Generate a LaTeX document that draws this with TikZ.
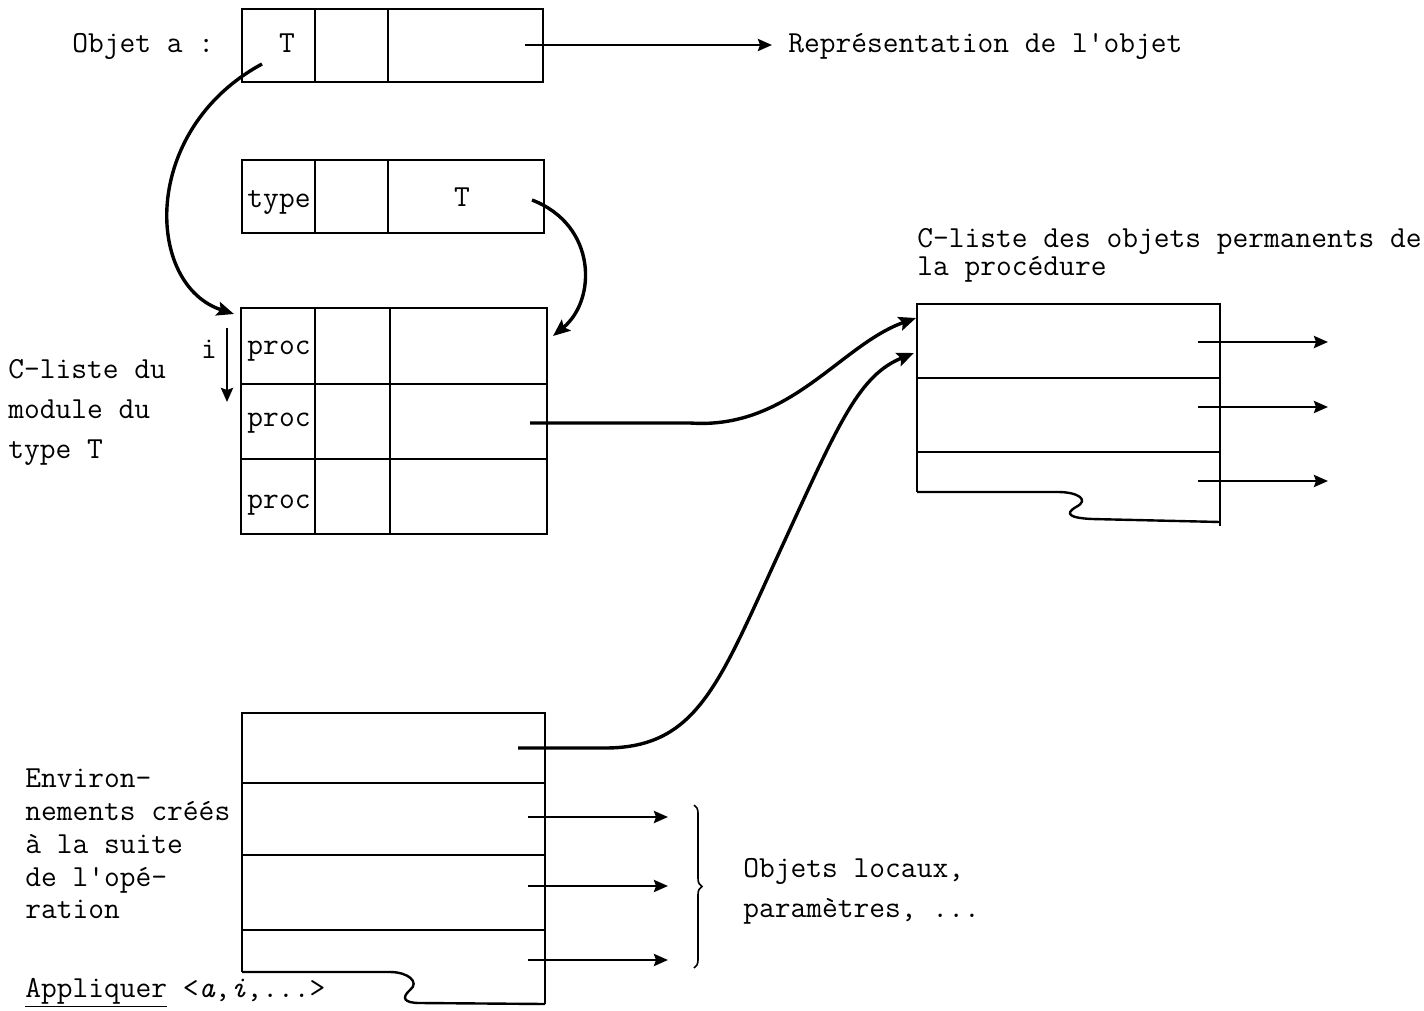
\documentclass[tikz,border=0pt]{standalone}
\usepackage{fontspec}
\usetikzlibrary{arrows.meta,fit,decorations.pathreplacing}
\begin{document}
\begin{tikzpicture}[x=0.5pt,y=-0.5pt,
  box/.style={draw, line width=1.2pt, inner sep=0pt},
  area/.style={inner sep=0pt},
  rule/.style={line width=1.2pt},
  txt/.style={font=\fontsize{15.3}{20}\selectfont\ttfamily, inner sep=0pt, anchor=base west},
  ctxt/.style={font=\fontsize{15.3}{20}\selectfont\ttfamily, inner sep=0pt, anchor=base},
  ptr/.style={line width=1.4pt, -{Stealth[length=7pt,width=6pt,inset=1pt]}},
  link/.style={line width=1.7pt, -{Stealth[length=8.5pt,width=7pt,inset=1.5pt]}},
]
\useasboundingbox (0,0) rectangle (1424,1011);

% ---- Objet a
\node[box, fit={(242,9) (543,82)}] (A) {};
\draw[rule] (315,9) -- (315,82) (388,9) -- (388,82);
\node[txt] (objA) at (72,53) {Objet a :};
\node[ctxt] (AT) at (287,53) {T};
\node[txt] (rep) at (788,53) {Représentation de l'objet};
\coordinate (Aout) at (525,45);
\draw[ptr, shorten >=8pt] (Aout) -- (rep.west |- Aout);

% ---- type box
\node[box, fit={(242,160) (544,233)}] (B) {};
\draw[rule] (315,160) -- (315,233) (388,160) -- (388,233);
\node[ctxt] (Btype) at (279,207) {type};
\node[ctxt] (BT) at (462,206) {T};

% ---- C-liste du module
\node[box, fit={(241,308) (547,534)}] (C) {};
\draw[rule] (315,308) -- (315,534) (390,308) -- (390,534)
            (241,384) -- (547,384) (241,459) -- (547,459);
\node[ctxt] (p1) at (279,354) {proc};
\node[ctxt] (p2) at (279,426) {proc};
\node[ctxt] (p3) at (279,508) {proc};
\node[ctxt] (ilab) at (209,358) {i};
\coordinate (itop) at (227,328);
\coordinate (ibot) at (227,402);
\draw[ptr] (itop) -- (ibot);
\node[txt] (cl1) at (8,378) {C-liste du};
\node[txt] (cl2) at (8,418) {module du};
\node[txt] (cl3) at (8,458) {type T};

% ---- C-liste des objets permanents
\node[area, fit={(917,304) (1220,492)}] (D) {};
\draw[rule] (917,492) -- (917,304) -- (1220,304) -- (1220,526);
\draw[rule] (917,378) -- (1220,378) (917,452) -- (1220,452);
\draw[rule] (917,492) -- (1058,492) .. controls (1078,492) and (1090,500) .. (1076,507)
   .. controls (1064,514) and (1070,518) .. (1092,519) -- (1220,522);
\node[txt] (dl1) at (917,247) {C-liste des objets permanents de};
\node[txt] (dl2) at (917,275) {la procédure};
\foreach \y/\n in {342/1,407/2,481/3}{
  \coordinate (ds\n) at (1198,\y);
  \coordinate (de\n) at (1328,\y);
  \draw[ptr] (ds\n) -- (de\n);
}

% ---- Environnements
\node[area, fit={(242,713) (545,972)}] (E) {};
\draw[rule] (242,972) -- (242,713) -- (545,713) -- (545,1004);
\draw[rule] (242,783) -- (545,783) (242,855) -- (545,855) (242,930) -- (545,930);
\draw[rule] (242,972) -- (390,972) .. controls (408,972) and (420,982) .. (410,990)
   .. controls (401,998) and (404,1003) .. (420,1003) -- (545,1004);
\foreach \y/\n in {817/1,886/2,960/3}{
  \coordinate (es\n) at (528,\y);
  \coordinate (ee\n) at (668,\y);
  \draw[ptr] (es\n) -- (ee\n);
}
\node[txt] (e1) at (25,787) {Environ-};
\node[txt] (e2) at (25,820) {nements créés};
\node[txt] (e3) at (25,853) {à la suite};
\node[txt] (e4) at (25,886) {de l'opé-};
\node[txt] (e5) at (25,918) {ration};
\node[txt] (appl) at (25,997) {\underline{Appliquer} <\textit{a},\textit{i},...>};

\draw[decorate, decoration={brace, amplitude=4pt}, line width=0.8pt] (694,805) -- (694,968);
\node[txt] (ol1) at (743,877) {Objets locaux,};
\node[txt] (ol2) at (743,917) {paramètres, ...};

% ---- curved connectors
\coordinate (aT) at (262,64);
\coordinate (Cin) at (234,314);
\draw[link] (aT) .. controls (140,130) and (145,285) .. (Cin);

\coordinate (BTo) at (532,200);
\coordinate (Cin2) at (553,336);
\draw[link] (BTo) .. controls (597,225) and (597,300) .. (Cin2);

\coordinate (Cp2) at (530,423);
\coordinate (Din1) at (916,318);
\draw[link] (Cp2) -- (690,423) .. controls (790,430) and (840,345) .. (Din1);

\coordinate (Er1) at (518,748);
\coordinate (Din2) at (914,353);
\draw[link] (Er1) -- (605,748) .. controls (700,748) and (720,680) .. (785,540)
   .. controls (840,420) and (860,375) .. (Din2);
\end{tikzpicture}
\end{document}
